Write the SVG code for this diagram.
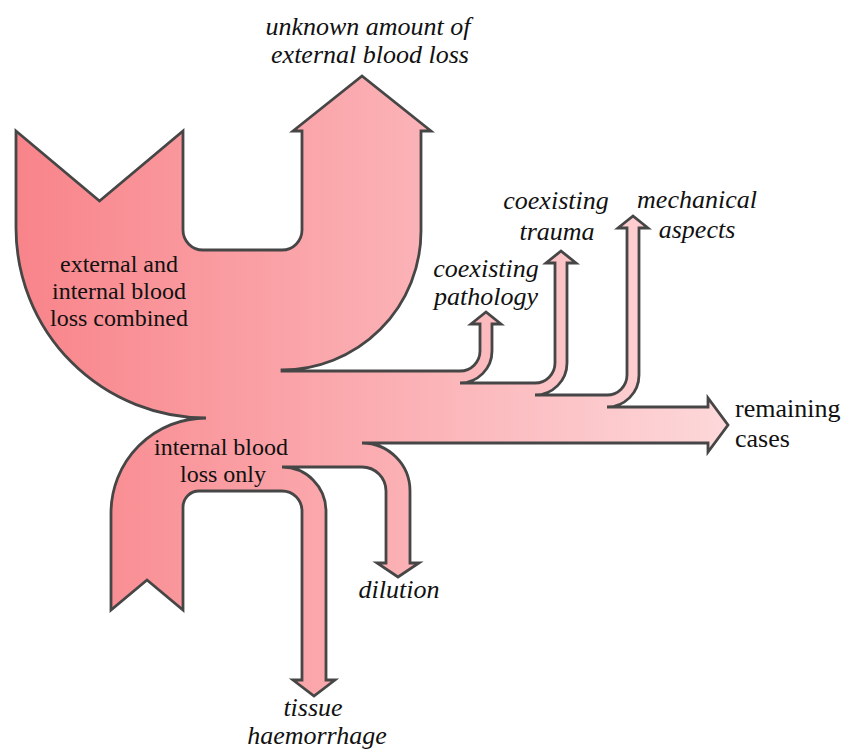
<svg xmlns="http://www.w3.org/2000/svg" width="859" height="751" viewBox="0 0 859 751">
<defs>
<linearGradient id="flowGrad" gradientUnits="userSpaceOnUse" x1="16" y1="0" x2="728" y2="0">
<stop offset="0" stop-color="#f8848a"/>
<stop offset="0.55" stop-color="#fbb1b5"/>
<stop offset="1" stop-color="#fdd8da"/>
</linearGradient>
<style>
.flow{fill:url(#flowGrad);stroke:#464646;stroke-width:2.8;stroke-linejoin:miter;stroke-miterlimit:10}
.lbl{font-size:24px;fill:#111;text-anchor:middle}
.side{font-size:26px;fill:#111;text-anchor:start}
.out{font-size:26px;font-style:italic;fill:#111;text-anchor:middle}
</style>
</defs>
<rect width="859" height="751" fill="#ffffff"/>
<g id="connectors">
<path class="flow" d="M16,131 L99.5,201 L183,131 L183,230 A20,20 0 0 0 203,250 L282,250 A20,20 0 0 0 302,230 L302,131 L293,131 L362,76 L431,131 L421,131 L421,231 A139,139 0 0 1 282,370 L282,371 L460,371 A20,20 0 0 0 480,351 L480,324 L471,324 L486,312 L501,324 L492,324 L492,351 A32,32 0 0 1 460,383 L535,383 A20,20 0 0 0 555,363 L555,263 L546,263 L561,251 L576,263 L567,263 L567,363 A32,32 0 0 1 535,395 L607,395 A20,20 0 0 0 627,375 L627,228 L618,228 L633,216 L648,228 L639,228 L639,375 A32,32 0 0 1 607,407 L708,407 L708,398 L728,425 L708,452 L708,443 L362,443 A48,48 0 0 1 410,491 L410,563 L419,563 L398,577 L377,563 L386,563 L386,491 A24,24 0 0 0 362,467 L282,467 A44,44 0 0 1 326,511 L326,680 L335,680 L314,696 L293,680 L302,680 L302,511 A20,20 0 0 0 282,491 L199,491 A16,16 0 0 0 183,507 L183,610 L147,580 L111,610 L111,513 A95,95 0 0 1 206,418 A190,190 0 0 1 16,228 Z"/>
</g>
<g font-family="Liberation Serif, Times New Roman, serif">
<g id="node-combined">
<text class="lbl" x="119" y="272">external and</text>
<text class="lbl" x="119" y="299">internal blood</text>
<text class="lbl" x="119" y="326">loss combined</text>
</g>
<g id="node-internal">
<text class="lbl" x="221" y="455">internal blood</text>
<text class="lbl" x="223" y="482">loss only</text>
</g>
<g id="node-external">
<text class="out" x="368" y="35">unknown amount of</text>
<text class="out" x="370" y="63">external blood loss</text>
</g>
<g id="node-pathology">
<text class="out" x="486" y="277">coexisting</text>
<text class="out" x="486" y="305">pathology</text>
</g>
<g id="node-trauma">
<text class="out" x="556" y="209">coexisting</text>
<text class="out" x="557" y="240">trauma</text>
</g>
<g id="node-mechanical">
<text class="out" x="697" y="208">mechanical</text>
<text class="out" x="697" y="238">aspects</text>
</g>
<g id="node-remaining">
<text class="side" x="735" y="417">remaining</text>
<text class="side" x="735" y="447">cases</text>
</g>
<g id="node-dilution">
<text class="out" x="399" y="598">dilution</text>
</g>
<g id="node-tissue">
<text class="out" x="313" y="716">tissue</text>
<text class="out" x="317" y="744">haemorrhage</text>
</g>
</g>
</svg>
